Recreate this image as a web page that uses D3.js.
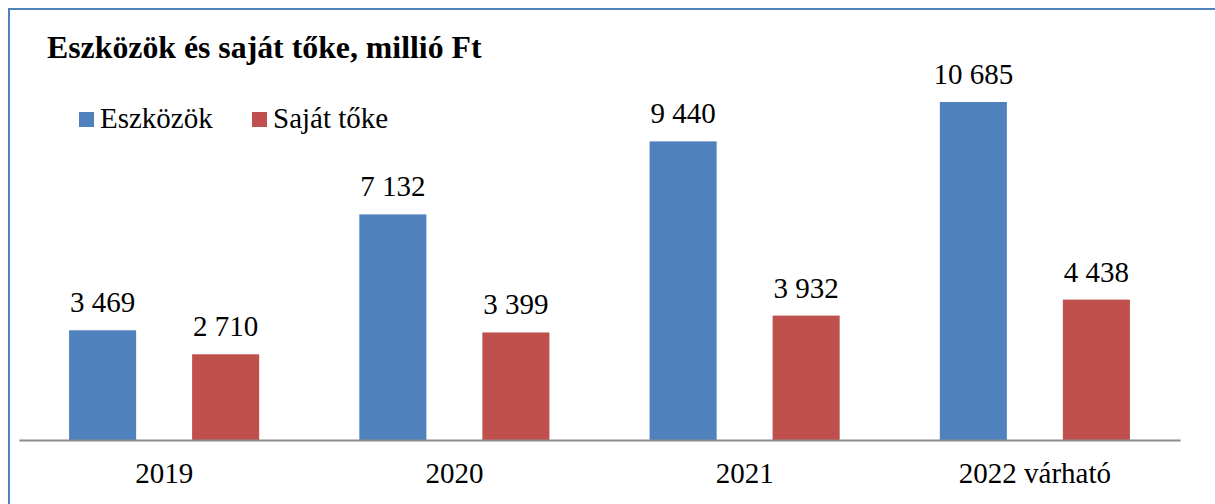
<!DOCTYPE html>
<html>
<head>
<meta charset="utf-8">
<script src="https://cdn.jsdelivr.net/npm/d3@7"></script>
<style>
  body { margin: 0; background: #fff; }
</style>
</head>
<body>
<div id="chart"></div>
<script>
// Data
var categories = ["2019", "2020", "2021", "2022 várható"];
var seriesNames = ["Eszközök", "Saját tőke"];
var eszkozok = [3469, 7132, 9440, 10685];
var sajatToke = [2710, 3399, 3932, 4438];
var colors = ["#4F81BD", "#C0504D"];

var serifFont = "Liberation Serif";

var svgWidth = 1215;
var svgHeight = 504;

var svg = d3.select("#chart")
  .append("svg")
  .attr("width", svgWidth)
  .attr("height", svgHeight)
  .attr("font-family", serifFont);

// frame
svg.append("rect")
  .attr("x", 9).attr("y", 9)
  .attr("width", 1250).attr("height", 600)
  .attr("fill", "none")
  .attr("stroke", "#4F81BD")
  .attr("stroke-width", 2);

// scales
var xScale = d3.scaleBand()
  .domain(categories)
  .range([19, 1180])
  .padding(0);

var xInner = d3.scaleBand()
  .domain(seriesNames)
  .range([0, xScale.bandwidth()])
  .paddingInner(0.455)
  .paddingOuter(0.407);

var yScale = d3.scaleLinear()
  .domain([0, 12000])
  .range([440, 60.4]);

var rows = categories.map(function (c, i) {
  return { cat: c, values: [eszkozok[i], sajatToke[i]] };
});

var fmt = function (v) { return d3.format(",")(v).replace(/,/g, " "); };

// bars
var groups = svg.selectAll(".cat")
  .data(rows)
  .enter()
  .append("g")
  .attr("class", "cat")
  .attr("transform", d => `translate(${xScale(d.cat)}, 0)`);

groups.selectAll("rect")
  .data(d => d.values.map((v, j) => ({ name: seriesNames[j], value: v, j: j })))
  .enter()
  .append("rect")
  .attr("x", d => xInner(d.name))
  .attr("y", d => yScale(d.value))
  .attr("width", xInner.bandwidth())
  .attr("height", d => yScale(0) - yScale(d.value))
  .attr("fill", d => colors[d.j]);

groups.selectAll(".val")
  .data(d => d.values.map((v, j) => ({ name: seriesNames[j], value: v })))
  .enter()
  .append("text")
  .attr("class", "val")
  .attr("x", d => xInner(d.name) + xInner.bandwidth() / 2)
  .attr("y", d => yScale(d.value) - 18)
  .attr("text-anchor", "middle")
  .attr("font-family", serifFont)
  .attr("font-size", 29)
  .attr("fill", "#000")
  .text(d => fmt(d.value));

// baseline axis
var bottomAxis = d3.axisBottom(xScale).tickSize(0).tickPadding(0);
var axisG = svg.append("g")
  .attr("transform", `translate(0, ${yScale(0)})`)
  .call(bottomAxis)
  .attr("font-family", serifFont)
  .attr("font-size", 29);
axisG.select(".domain").attr("stroke", "#8c8c8c").attr("stroke-width", 2);
axisG.selectAll(".tick text")
  .attr("y", 43)
  .attr("dy", 0)
  .attr("fill", "#000");

// title
svg.append("text")
  .attr("x", 47)
  .attr("y", 58)
  .attr("font-family", serifFont)
  .attr("font-size", 31.8)
  .attr("font-weight", "bold")
  .text("Eszközök és saját tőke, millió Ft");

// legend
var legendX = [79, 252];
var legend = svg.selectAll(".legend")
  .data(seriesNames)
  .enter()
  .append("g")
  .attr("class", "legend")
  .attr("transform", (d, i) => `translate(${legendX[i]}, 112)`);

legend.append("rect")
  .attr("width", 15)
  .attr("height", 15)
  .attr("fill", (d, i) => colors[i]);

legend.append("text")
  .attr("x", 21)
  .attr("y", 16)
  .attr("font-family", serifFont)
  .attr("font-size", 29)
  .text(d => d);
</script>
</body>
</html>
